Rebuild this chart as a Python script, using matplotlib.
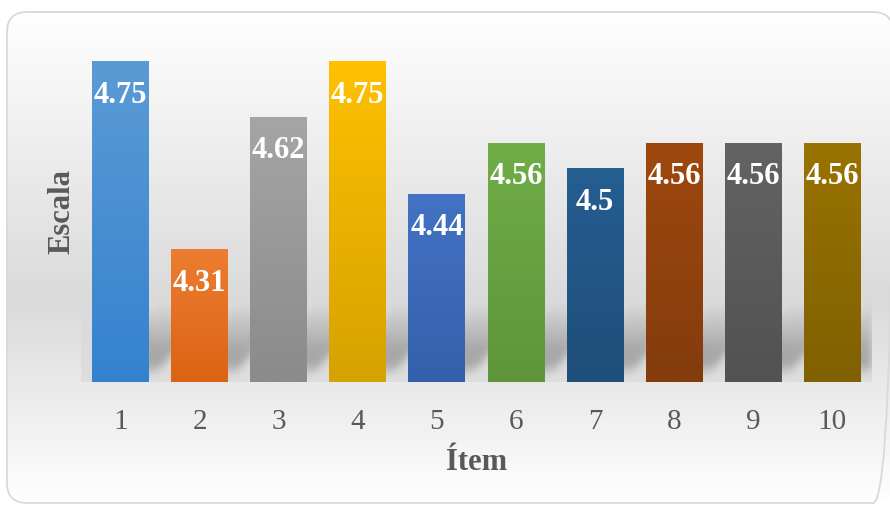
import numpy as np
import matplotlib
matplotlib.use("Agg")
import matplotlib.pyplot as plt
from matplotlib.patches import FancyBboxPatch, Rectangle
from matplotlib.colors import to_rgb

# ---- data -------------------------------------------------------------
items = ["1", "2", "3", "4", "5", "6", "7", "8", "9", "10"]
scores = [4.75, 4.31, 4.62, 4.75, 4.44, 4.56, 4.5, 4.56, 4.56, 4.56]
top_colors = ["#5b9bd5", "#ed7d31", "#a5a5a5", "#ffc000", "#4472c4",
              "#70ad47", "#255e91", "#9e480e", "#636363", "#997300"]
bottom_colors = ["#3482cf", "#db6314", "#8b8b8b", "#d6a200", "#3460ab",
                 "#5e953a", "#1f4e79", "#843c0c", "#525252", "#806000"]
x_title = "Ítem"
y_title = "Escala"

SERIF = "Liberation Serif"
TEXT_GREY = "#595959"
YMIN, YMAX = 4.0, 4.8
BAR_W = 0.72

W, H, DPI = 890, 506, 100
fig = plt.figure(figsize=(W / DPI, H / DPI), dpi=DPI)
fig.patch.set_facecolor("white")

L, R, B, T = 81, 872, 383, 41   # plot area in pixels

# ---- chart area: rounded frame with vertical grey gradient -------------
bg = fig.add_axes([0, 0, 1, 1], zorder=-5)
bg.set_xlim(0, W)
bg.set_ylim(H, 0)
bg.axis("off")
rows = np.arange(H)
shade = np.interp(rows, [13, 300, 504], [1.0, 0.855, 1.0])
grad = np.repeat(shade[:, None], 2, axis=1)
im = bg.imshow(np.dstack([grad, grad, grad]), extent=(0, W, H, 0),
               aspect="auto", interpolation="bilinear")
frame = FancyBboxPatch((7, 13), 886, 491,
                       boxstyle="round,pad=0,rounding_size=20",
                       facecolor="none", edgecolor="#d9d9d9", lw=1.3)
bg.add_patch(frame)
im.set_clip_path(frame)

# plot-area fill: follows the chart gradient, stays grey near the floor
prow = np.arange(T, B)
pshade = np.interp(prow, [T, 300, B], [np.interp(T, [13, 300], [1.0, 0.855]),
                                        0.855, 0.868])
pgrad = np.repeat(pshade[:, None], 2, axis=1)
bg.imshow(np.dstack([pgrad, pgrad, pgrad]), extent=(L, R, B, T),
          aspect="auto", interpolation="bilinear")
bg.set_xlim(0, W)
bg.set_ylim(H, 0)

# ---- plot area ---------------------------------------------------------
ax = fig.add_axes([L / W, 1 - B / H, (R - L) / W, (B - T) / H])
ax.patch.set_alpha(0)
x = np.arange(1, len(items) + 1)
heights = np.array(scores) - YMIN
bars = ax.bar(x, heights, bottom=YMIN, width=BAR_W, color=top_colors,
              zorder=3)
ax.set_xlim(0.5, len(items) + 0.5)
ax.set_ylim(YMIN, YMAX)

# soft perspective shadow cast diagonally behind each bar
nx, ny = R - L, B - T
px_per_x = nx / (len(items))
Xp, Yp = np.meshgrid(np.arange(nx) + 0.5, np.arange(ny) + 0.5)
t = Yp / 1.2
u = Xp - t
S = np.zeros_like(Xp)
ramp = np.clip((t - 5) / 10, 0, 1) * np.clip((66 - t) / 40, 0, 1)
for xi in x:
    x0p = (xi - BAR_W / 2 - 0.5) * px_per_x
    x1p = (xi + BAR_W / 2 - 0.5) * px_per_x
    inside = (u >= x0p) & (u <= x1p)
    S = np.maximum(S, np.where(inside, ramp, 0.0))

def gauss_blur(a, sigma):
    r = int(3 * sigma)
    k = np.exp(-0.5 * (np.arange(-r, r + 1) / sigma) ** 2)
    k /= k.sum()
    a = np.apply_along_axis(lambda v: np.convolve(v, k, mode="same"), 0, a)
    a = np.apply_along_axis(lambda v: np.convolve(v, k, mode="same"), 1, a)
    return a

S = gauss_blur(S, 4.0)
shadow = np.zeros((ny, nx, 4))
shadow[..., 3] = 0.24 * S
ax.imshow(shadow, extent=(0.5, len(items) + 0.5, YMIN, YMAX), origin="lower",
          aspect="auto", zorder=1, interpolation="bilinear")
ax.set_xlim(0.5, len(items) + 0.5)
ax.set_ylim(YMIN, YMAX)

# vertical gradient fill on each bar
for bar, c_top, c_bot in zip(bars, top_colors, bottom_colors):
    x0, y0 = bar.get_x(), bar.get_y()
    w, h = bar.get_width(), bar.get_height()
    ct, cb = np.array(to_rgb(c_top)), np.array(to_rgb(c_bot))
    f = np.linspace(0, 1, 64)[:, None]
    col = (ct * (1 - f) + cb * f)[:, None, :]
    g = ax.imshow(col, extent=(x0, x0 + w, y0, y0 + h), origin="upper",
                  aspect="auto", zorder=3.5, interpolation="bilinear")
    g.set_clip_path(bar)
ax.set_xlim(0.5, len(items) + 0.5)
ax.set_ylim(YMIN, YMAX)

# value labels inside the top of each bar
dy = 33 * (YMAX - YMIN) / ny
for xi, v in zip(x, scores):
    ax.text(xi, v - dy, f"{v:g}", ha="center", va="center", color="white",
            fontsize=22, fontweight="bold", family=SERIF, zorder=5)

# axes styling
for s in ax.spines.values():
    s.set_visible(False)
ax.set_yticks([])
ax.set_xticks(x, items)
ax.tick_params(axis="x", length=0, pad=18.5, labelsize=21,
               labelcolor=TEXT_GREY)
for lab in ax.get_xticklabels():
    lab.set_family(SERIF)

ax.set_xlabel(x_title, fontsize=22, fontweight="bold", color=TEXT_GREY,
              family=SERIF, va="center")
ax.xaxis.set_label_coords(0.5, (B - 463) / ny)
ax.set_ylabel(y_title, fontsize=22, fontweight="bold", color=TEXT_GREY,
              family=SERIF, va="center")
ax.yaxis.set_label_coords((62 - L) / nx, (B - 212) / ny)

fig.savefig("out.png", dpi=DPI)
